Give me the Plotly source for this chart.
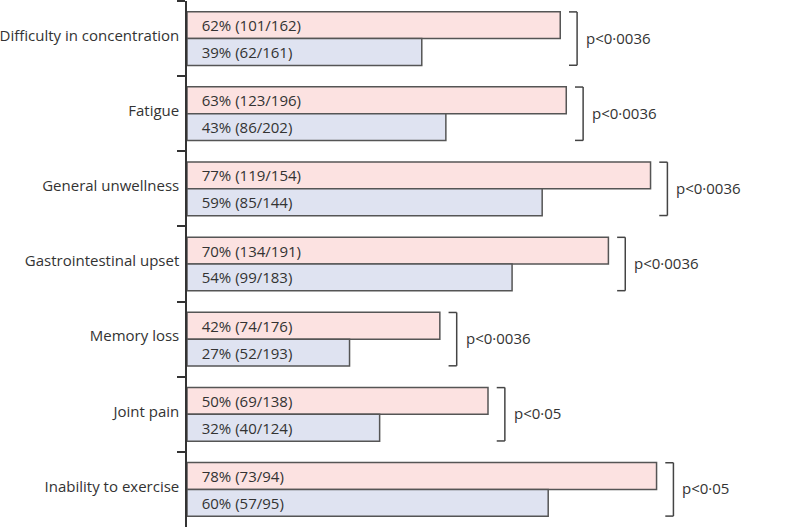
import plotly.graph_objects as go

categories = ["Difficulty in concentration", "Fatigue", "General unwellness",
              "Gastrointestinal upset", "Memory loss", "Joint pain", "Inability to exercise"]
group1_pct = [62, 63, 77, 70, 42, 50, 78]
group1_txt = ["62% (101/162)", "63% (123/196)", "77% (119/154)", "70% (134/191)",
              "42% (74/176)", "50% (69/138)", "78% (73/94)"]
group2_pct = [39, 43, 59, 54, 27, 32, 60]
group2_txt = ["39% (62/161)", "43% (86/202)", "59% (85/144)", "54% (99/183)",
              "27% (52/193)", "32% (40/124)", "60% (57/95)"]
p_values = ["p<0·0036", "p<0·0036", "p<0·0036", "p<0·0036", "p<0·0036", "p<0·05", "p<0·05"]

FONT = "Open Sans"
FS = 15
TXT = "#333333"
pad = "\u00a0\u00a0\u00a0"

fig = go.Figure()
fig.add_trace(go.Bar(
    y=categories, x=group1_pct, orientation="h",
    marker=dict(color="#fce2e1", line=dict(color="#555555", width=1.5)),
    text=[pad + t for t in group1_txt], textposition="inside", insidetextanchor="start",
    textfont=dict(family=FONT, size=FS, color=TXT), constraintext="none",
    hoverinfo="skip", showlegend=False))
fig.add_trace(go.Bar(
    y=categories, x=group2_pct, orientation="h",
    marker=dict(color="#dfe3f1", line=dict(color="#555555", width=1.5)),
    text=[pad + t for t in group2_txt], textposition="inside", insidetextanchor="start",
    textfont=dict(family=FONT, size=FS, color=TXT), constraintext="none",
    hoverinfo="skip", showlegend=False))

half = 0.355
off = 2.8
tick = 1.35
for i, (a, b, p) in enumerate(zip(group1_pct, group2_pct, p_values)):
    bx = max(a, b) + off
    line = dict(color="#444444", width=1.5)
    fig.add_shape(type="line", xref="x", yref="y", x0=bx, x1=bx, y0=i - half, y1=i + half, line=line)
    fig.add_shape(type="line", xref="x", yref="y", x0=bx - tick, x1=bx, y0=i - half, y1=i - half, line=line)
    fig.add_shape(type="line", xref="x", yref="y", x0=bx - tick, x1=bx, y0=i + half, y1=i + half, line=line)
    fig.add_annotation(x=bx, y=i, xref="x", yref="y", text=p, showarrow=False,
                       xanchor="left", xshift=7, yshift=1, font=dict(family=FONT, size=FS, color=TXT))

fig.update_layout(
    width=800, height=530,
    margin=dict(l=187, r=11, t=1, b=3, autoexpand=False),
    paper_bgcolor="white", plot_bgcolor="white",
    barmode="group", bargap=0.285, bargroupgap=0,
    font=dict(family=FONT, size=FS, color=TXT),
    xaxis=dict(range=[0, 100], visible=False, automargin=False),
    yaxis=dict(categoryorder="array", categoryarray=categories, autorange="reversed",
               automargin=False,
               showline=True, linecolor="#333333", linewidth=1.5,
               ticks="outside", ticklen=8, tickcolor="#333333", tickwidth=1.5,
               tickson="boundaries", showgrid=False, zeroline=False,
               tickfont=dict(family=FONT, size=FS, color=TXT), ticklabelstandoff=3,
               ticklabelshift=3),
)

fig.write_html("out.html", config={"displayModeBar": False},
               post_script="document.body.style.margin='0';document.body.style.overflow='hidden';")
